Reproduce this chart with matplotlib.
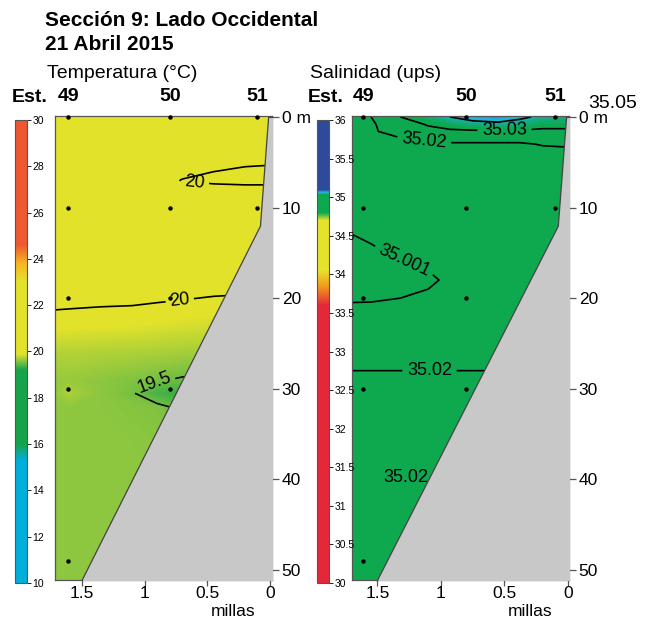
import numpy as np
import matplotlib
matplotlib.use("Agg")
import matplotlib.pyplot as plt
from matplotlib.colors import LinearSegmentedColormap, Normalize
from matplotlib.cm import ScalarMappable

plt.rcParams['font.family'] = ['Liberation Sans', 'DejaVu Sans']

# ---------------- data ----------------
stations = ["49", "50", "51"]
station_dist = [1.61, 0.80, 0.10]          # millas
temp_station_depths = [[0, 10, 20, 30, 49], [0, 10, 20, 30], [0, 10]]
sal_station_depths = [[0, 10, 20, 30, 49], [0, 10, 20, 30], [0, 10]]

bottom_dist = [0.015, 0.08, 1.50, 1.50]
bottom_depth = [0.0, 12.0, 51.0, 52.0]

# temperature grid (°C), read from the section
t_dist = [0.0, 0.2, 0.45, 0.7, 0.9, 1.1, 1.35, 1.6, 1.75]
t_depth = [0, 4, 7, 8.5, 12, 18, 23, 26, 29, 30.5, 32, 36, 44, 52]
temp = [
    [20.60, 20.60, 20.60, 20.60, 20.60, 20.60, 20.60, 20.60, 20.60],
    [20.08, 20.10, 20.15, 20.20, 20.30, 20.40, 20.45, 20.50, 20.50],
    [19.90, 19.90, 19.93, 19.99, 20.10, 20.25, 20.35, 20.40, 20.40],
    [20.20, 20.20, 20.20, 20.25, 20.30, 20.35, 20.40, 20.40, 20.40],
    [20.30, 20.30, 20.30, 20.30, 20.32, 20.35, 20.38, 20.40, 20.40],
    [20.08, 20.08, 20.09, 20.11, 20.12, 20.13, 20.13, 20.14, 20.14],
    [19.83, 19.83, 19.84, 19.86, 19.88, 19.90, 19.91, 19.92, 19.93],
    [19.66, 19.66, 19.67, 19.68, 19.70, 19.71, 19.72, 19.73, 19.73],
    [19.45, 19.46, 19.47, 19.48, 19.52, 19.56, 19.60, 19.64, 19.63],
    [19.35, 19.32, 19.30, 19.30, 19.35, 19.52, 19.60, 19.70, 19.63],
    [19.45, 19.44, 19.43, 19.45, 19.55, 19.58, 19.60, 19.61, 19.60],
    [19.56, 19.56, 19.57, 19.58, 19.59, 19.60, 19.60, 19.60, 19.60],
    [19.60, 19.60, 19.60, 19.60, 19.60, 19.60, 19.60, 19.60, 19.60],
    [19.60, 19.60, 19.60, 19.60, 19.60, 19.60, 19.60, 19.60, 19.60],
]
temp_levels = [19.5, 20.0]

# salinity grid (ups)
s_dist = [0.0, 0.2, 0.38, 0.55, 0.75, 0.93, 1.1, 1.32, 1.55, 1.75]
s_depth = [0, 0.8, 1.6, 3, 5, 8, 12, 15, 18, 20, 23, 26, 30, 36, 44, 52]
sal = [
    [35.040, 35.045, 35.055, 35.068, 35.062, 35.050, 35.038, 35.030, 35.020, 35.015],
    [35.035, 35.035, 35.040, 35.043, 35.040, 35.035, 35.031, 35.025, 35.019, 35.015],
    [35.027, 35.027, 35.028, 35.028, 35.028, 35.028, 35.027, 35.023, 35.019, 35.015],
    [35.021, 35.0205, 35.019, 35.019, 35.019, 35.019, 35.018, 35.017, 35.016, 35.014],
    [35.015, 35.015, 35.014, 35.014, 35.014, 35.014, 35.013, 35.012, 35.010, 35.009],
    [35.012, 35.012, 35.012, 35.011, 35.011, 35.010, 35.009, 35.008, 35.006, 35.005],
    [35.010, 35.010, 35.010, 35.009, 35.008, 35.007, 35.006, 35.005, 35.003, 35.0015],
    [35.008, 35.008, 35.007, 35.006, 35.005, 35.004, 35.003, 35.002, 35.000, 34.999],
    [35.006, 35.006, 35.006, 35.005, 35.004, 35.002, 35.000, 34.998, 34.997, 34.997],
    [35.007, 35.007, 35.007, 35.006, 35.005, 35.004, 35.002, 35.001, 35.000, 35.000],
    [35.012, 35.012, 35.012, 35.011, 35.011, 35.010, 35.009, 35.008, 35.007, 35.006],
    [35.016, 35.016, 35.016, 35.016, 35.016, 35.016, 35.016, 35.016, 35.016, 35.016],
    [35.024, 35.024, 35.024, 35.024, 35.024, 35.024, 35.024, 35.024, 35.024, 35.024],
    [35.023, 35.023, 35.023, 35.023, 35.023, 35.023, 35.023, 35.023, 35.023, 35.023],
    [35.022, 35.022, 35.022, 35.022, 35.022, 35.022, 35.022, 35.022, 35.022, 35.022],
    [35.022, 35.022, 35.022, 35.022, 35.022, 35.022, 35.022, 35.022, 35.022, 35.022],
]
sal_levels = [35.001, 35.02, 35.03, 35.05]

temp_ticks = [10, 12, 14, 16, 18, 20, 22, 24, 26, 28, 30]
sal_ticks = [30, 30.5, 31, 31.5, 32, 32.5, 33, 33.5, 34, 34.5, 35, 35.5, 36]
depth_ticks = [0, 10, 20, 30, 40, 50]
depth_labels = ["0 m", "10", "20", "30", "40", "50"]
dist_ticks = [1.5, 1, 0.5, 0]
dist_labels = ["1.5", "1", "0.5", "0"]

# ---------------- colormaps ----------------
def seg_cmap(name, vmin, vmax, nodes):
    return LinearSegmentedColormap.from_list(
        name, [((v - vmin) / (vmax - vmin), c) for v, c in nodes], N=2048)

t_cmap = seg_cmap("temp", 10, 30, [
    (10, "#00AEDB"), (15.3, "#00AEDB"), (16.0, "#17A34A"), (19.2, "#17A34A"),
    (19.6, "#8CC63F"), (19.9, "#E2E22B"), (23.0, "#E2E22B"), (23.8, "#F9B51F"),
    (24.6, "#EE5A30"), (30, "#EE5530")])
s_cmap = seg_cmap("sal", 30, 36, [
    (30, "#E4283A"), (33.6, "#E4283A"), (33.85, "#F39A1E"), (34.05, "#E5E22B"),
    (34.7, "#E5E22B"), (34.8, "#0EA84F"), (35.035, "#0EA84F"), (35.06, "#20B4E2"),
    (35.1, "#2E4A9C"), (36, "#2E4A9C")])
t_norm = Normalize(10, 30)
s_norm = Normalize(30, 36)

# ---------------- figure ----------------
W, H = 655, 621
fig = plt.figure(figsize=(W / 100, H / 100), dpi=100)

def px_axes(x0, y0, x1, y1):
    return fig.add_axes([x0 / W, 1 - y1 / H, (x1 - x0) / W, (y1 - y0) / H])

axT = px_axes(55, 116, 272, 580)
axS = px_axes(352, 116, 569, 580)
caxT = px_axes(15, 120, 27, 583)
caxS = px_axes(317, 120, 329, 583)

spine_c = "#555555"

def panel(ax, xd, zd, field, cmap, norm, fill_levels, line_levels, xlim,
          label_pos, station_depths, xlabel_px):
    X, Z = np.meshgrid(xd, zd)
    F = np.array(field)
    ax.contourf(X, Z, F, levels=fill_levels, cmap=cmap, norm=norm,
                extend="both", zorder=1)
    cs = ax.contour(X, Z, F, levels=line_levels, colors="black",
                    linewidths=1.2, zorder=2)
    ax.clabel(cs, manual=label_pos, inline=True, fmt="%g", fontsize=13,
              inline_spacing=4)
    ax.fill_betweenx(bottom_depth, bottom_dist, -1, facecolor="#C8C8C8",
                     edgecolor="#444444", linewidth=0.9, zorder=4)
    for d, deps in zip(station_dist, station_depths):
        ax.plot([d] * len(deps), deps, "o", color="black", ms=2.2, zorder=5,
                clip_on=False)
    ax.set_xlim(*xlim)
    ax.set_ylim(51.1, -0.1)
    ax.yaxis.tick_right()
    ax.set_yticks(depth_ticks)
    ax.set_yticklabels(depth_labels, fontsize=12.5)
    ax.set_xticks(dist_ticks)
    ax.set_xticklabels(dist_labels, fontsize=12.5)
    ax.tick_params(axis="y", length=5, width=0.9, color=spine_c, pad=2)
    ax.tick_params(axis="x", length=4, width=0.9, color=spine_c, pad=0)
    for s in ax.spines.values():
        s.set_color(spine_c)
        s.set_linewidth(0.9)
    fig.text(xlabel_px / W, 1 - 612 / H, "millas", fontsize=12.5,
             ha="center", va="center")

panel(axT, t_dist, t_depth, temp, t_cmap, t_norm,
      np.arange(19.0, 21.0, 0.005), temp_levels, (1.715, -0.016),
      [(0.60, 7.4), (0.72, 20.2), (0.93, 29.2)], temp_station_depths, 233)
panel(axS, s_dist, s_depth, sal, s_cmap, s_norm,
      np.arange(34.99, 35.12, 0.0005), sal_levels, (1.70, -0.008),
      [(0.50, 1.25), (1.13, 2.4), (1.28, 15.5), (1.09, 28.0)],
      sal_station_depths, 530)
axS.text(1.28, 39.8, "35.02", fontsize=13, ha="center", va="center", zorder=3)

# station labels
for ax in (axT, axS):
    for d, name in zip(station_dist, stations):
        ax.text(d, -2.2, name, fontsize=14, fontweight="bold", ha="center",
                va="center", clip_on=False)
fig.text(12 / W, 1 - 97 / H, "Est.", fontsize=14, fontweight="bold", va="center")
fig.text(308 / W, 1 - 97 / H, "Est.", fontsize=14, fontweight="bold", va="center")
fig.text(588 / W, 1 - 103 / H, "35.05", fontsize=14, va="center")

# colorbars
for cax, cmap, norm, ticks in ((caxT, t_cmap, t_norm, temp_ticks),
                               (caxS, s_cmap, s_norm, sal_ticks)):
    cb = fig.colorbar(ScalarMappable(norm=norm, cmap=cmap), cax=cax)
    cb.set_ticks(ticks)
    cb.set_ticklabels([f"{t:g}" for t in ticks])
    cb.outline.set_edgecolor(spine_c)
    cb.outline.set_linewidth(0.8)
    cax.tick_params(labelsize=7.5, length=3, width=0.6, pad=1)
    for lab in cax.get_yticklabels():
        lab.set_family(["Liberation Sans Narrow", "Liberation Sans"])

# titles
fig.text(45 / W, 1 - 20 / H, "Sección 9: Lado Occidental", fontsize=15,
         fontweight="bold", va="center")
fig.text(45 / W, 1 - 45 / H, "21 Abril 2015", fontsize=15, fontweight="bold",
         va="center")
fig.text(47 / W, 1 - 74 / H, "Temperatura (°C)", fontsize=14, va="center")
fig.text(310 / W, 1 - 74 / H, "Salinidad (ups)", fontsize=14, va="center")

fig.savefig("out.png", dpi=100)
